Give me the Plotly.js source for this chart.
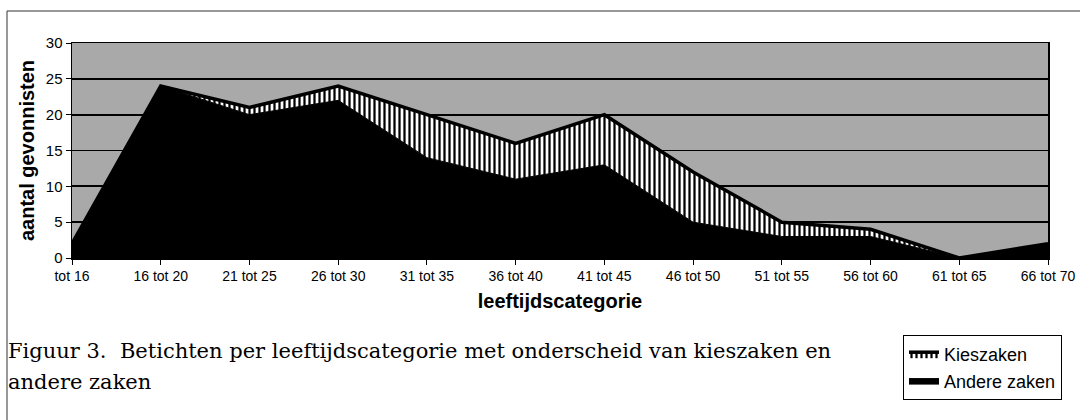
<!DOCTYPE html>
<html>
<head>
<meta charset="utf-8">
<script src="https://cdn.plot.ly/plotly-3.0.1.min.js"></script>
<style>html,body{margin:0;padding:0;background:#fff;}#chart{width:1080px;height:420px;}</style>
</head>
<body>
<div id="chart"></div>
<script>
const categories = ["tot 16","16 tot 20","21 tot 25","26 tot 30","31 tot 35","36 tot 40","41 tot 45","46 tot 50","51 tot 55","56 tot 60","61 tot 65","66 tot 70"];
const andereZaken = [2, 24, 20, 22, 14, 11, 13, 5, 3, 3, 0, 2];
const kieszaken   = [0, 0, 1, 2, 6, 5, 7, 7, 2, 1, 0, 0];
const yTicks = [0, 5, 10, 15, 20, 25, 30];
const captionLine1 = "Figuur 3.  Betichten per leeftijdscategorie met onderscheid van kieszaken en";
const captionLine2 = "andere zaken";

const W = 1080, H = 420;
const M = {l: 72, r: 32, t: 43, b: 162};
const pw = W - M.l - M.r, ph = H - M.t - M.b;
const px = x => (x - M.l) / pw;
const py = y => (H - M.b - y) / ph;
const SANS = "Arial, 'Liberation Sans', sans-serif";
const SERIF = "'DejaVu Serif', 'Liberation Serif', serif";

const traces = [
  {
    name: "Andere zaken", x: categories, y: andereZaken, type: "scatter", mode: "lines",
    stackgroup: "one", fillcolor: "#000000", line: {color: "#000000", width: 1}
  },
  {
    name: "Kieszaken", x: categories, y: kieszaken, type: "scatter", mode: "lines",
    stackgroup: "one", fillcolor: "#ffffff",
    fillpattern: {shape: "|", fgcolor: "#000000", bgcolor: "#ffffff", size: 5, solidity: 0.45},
    line: {color: "#000000", width: 3.5}
  }
];

const layout = {
  width: W, height: H,
  margin: M,
  paper_bgcolor: "#ffffff",
  plot_bgcolor: "#a9a9a9",
  font: {family: SANS, color: "#000"},
  showlegend: true,
  legend: {
    x: px(903), y: py(335), xanchor: "left", yanchor: "top",
    traceorder: "reversed",
    bordercolor: "#000", borderwidth: 1, bgcolor: "#fff",
    font: {size: 18, family: SANS},
    itemwidth: 30, tracegroupgap: 0
  },
  xaxis: {
    type: "category", range: [0, categories.length - 1],
    showgrid: false, zeroline: false,
    showline: true, linecolor: "#000", linewidth: 1.5, mirror: true,
    ticks: "outside", ticklen: 5, tickcolor: "#000",
    tickfont: {size: 14},
    title: {text: "<b>leeftijdscategorie</b>", font: {size: 20}, standoff: 10},
    automargin: false, fixedrange: true
  },
  yaxis: {
    range: [0, 30], tickvals: yTicks, ticktext: yTicks.map(String),
    showgrid: true, gridcolor: "#000", gridwidth: 1.8,
    zeroline: false,
    showline: true, linecolor: "#000", linewidth: 1.5, mirror: true,
    ticks: "outside", ticklen: 5, tickcolor: "#000",
    tickfont: {size: 15},
    title: {text: "<b>aantal gevonnisten</b>", font: {size: 20}, standoff: 6},
    automargin: false, fixedrange: true
  },
  shapes: [
    {type: "rect", xref: "paper", yref: "paper",
     x0: px(7), x1: px(1090), y0: py(430), y1: py(11),
     line: {color: "#333", width: 1}, fillcolor: "rgba(0,0,0,0)", layer: "below"}
  ],
  annotations: [
    {xref: "paper", yref: "paper", x: px(6), y: py(351), xanchor: "left", yanchor: "middle",
     text: captionLine1, showarrow: false,
     font: {family: SERIF, size: 21, color: "#000"}},
    {xref: "paper", yref: "paper", x: px(6), y: py(382), xanchor: "left", yanchor: "middle",
     text: captionLine2, showarrow: false,
     font: {family: SERIF, size: 21, color: "#000"}}
  ]
};

Plotly.newPlot("chart", traces, layout, {staticPlot: true, displayModeBar: false});
</script>
</body>
</html>
